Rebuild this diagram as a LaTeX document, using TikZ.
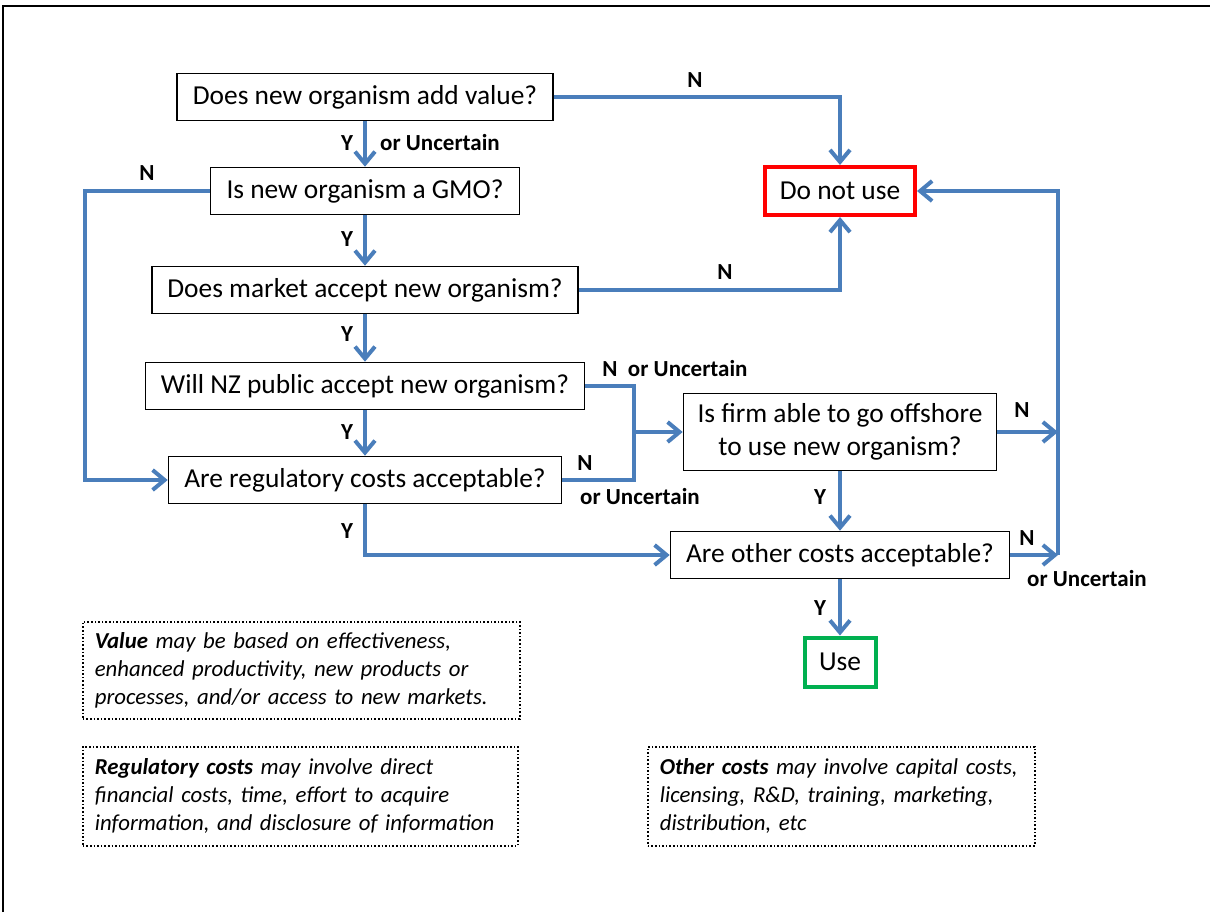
\documentclass[tikz,border=0pt]{standalone}
\usepackage{fontspec}
\setmainfont{Carlito}
\usepackage{tikz}
\usetikzlibrary{arrows.meta}

\definecolor{flowblue}{HTML}{4A7EBB}
\definecolor{stopred}{HTML}{FF0000}
\definecolor{gogreen}{HTML}{00B050}

\tikzset{
  qbox/.style={draw, line width=0.8pt, minimum height=23.5pt, inner sep=0pt,
    align=center, font=\fontsize{13.7}{16.5}\selectfont},
  endbox/.style={qbox, line width=2pt},
  link/.style={draw=flowblue, line width=2pt},
  flow/.style={link, -{Straight Barb[length=6pt,width=10pt,line width=2pt]}},
  ans/.style={inner sep=0pt, font=\fontsize{11.5}{13}\selectfont\bfseries},
  note/.style={draw, densely dotted, line width=0.8pt, anchor=north west, align=left,
    inner xsep=6pt, inner ysep=5pt, font=\fontsize{11.4}{14}\selectfont\itshape}
}

\begin{document}
\begin{tikzpicture}[x=0.5pt,y=-0.5pt]
        \useasboundingbox (0,0) rectangle (1210,912);
        % frame
        \draw[line width=1pt] (3,912) -- (3,6) -- (1210,6);

        % questions, left column
        \node[qbox, minimum width=188pt] (value) at (365,97) {Does new organism add value?};
        \node[qbox, minimum width=154.5pt] (gmo) at (365,191) {Is new organism a GMO?};
        \node[qbox, minimum width=213pt] (market) at (365,290) {Does market accept new organism?};
        \node[qbox, minimum width=219.5pt] (public) at (365,386) {Will NZ public accept new organism?};
        \node[qbox, minimum width=196.5pt] (regcost) at (365,480) {Are regulatory costs acceptable?};

        % right column
        \node[endbox, draw=stopred, minimum width=75pt, minimum height=24pt] (dontuse) at (840,191) {Do not use};
        \node[qbox, minimum width=156.5pt, minimum height=38.5pt] (offshore) at (840,432)
            {Is firm able to go offshore\\to use new organism?};
        \node[qbox, minimum width=169.5pt] (othcost) at (840,555) {Are other costs acceptable?};
        \node[endbox, draw=gogreen, minimum width=35.5pt, minimum height=24.5pt] (use) at (840,662) {Use};

        % rails
        \coordinate (lrail) at (85,191);
        \coordinate (junc) at (634,432);
        \coordinate (rrail) at (1058,555);

        % connectors
        \draw[flow] (value.east) -| (dontuse.north);
        \draw[flow] (value) -- (gmo);
        \draw[flow] (gmo.west) -- (lrail) |- (regcost.west);
        \draw[flow] (gmo) -- (market);
        \draw[flow] (market.east) -| (dontuse.south);
        \draw[flow] (market) -- (public);
        \draw[flow] (public) -- (regcost);
        \draw[link] (public.east) -| (junc) |- (regcost.east);
        \draw[flow] (junc) -- (offshore.west);
        \draw[flow] (regcost.south) |- (othcost.west);
        \draw[flow] (offshore.east) -- (offshore.east -| rrail);
        \draw[flow] (offshore) -- (othcost);
        \draw[flow] (othcost.east) -- (rrail);
        \draw[flow] (rrail) |- (dontuse.east);
        \draw[flow] (othcost) -- (use);

        % answers
        \node[ans] (a1) at (695,80) {N};
        \node[ans] (a2) at (347,143) {Y};
        \node[ans] (a3) at (440,143) {or Uncertain};
        \node[ans] (a4) at (147,173) {N};
        \node[ans] (a5) at (347,239) {Y};
        \node[ans] (a6) at (725,272) {N};
        \node[ans] (a7) at (347,334) {Y};
        \node[ans] (a8) at (675,369) {N\ \ or Uncertain};
        \node[ans] (a9) at (347,432) {Y};
        \node[ans] (a10) at (585,463) {N};
        \node[ans] (a11) at (640,497) {or Uncertain};
        \node[ans] (a12) at (1022,410) {N};
        \node[ans] (a13) at (347,531) {Y};
        \node[ans] (a14) at (820,497) {Y};
        \node[ans] (a15) at (1027,538) {N};
        \node[ans] (a16) at (1087,578) {or Uncertain};
        \node[ans] (a17) at (820,608) {Y};

        % notes
        \node[note, text width=206.5pt, minimum height=48.5pt] (valnote) at (82,621)
            {\textbf{Value} may be based on effectiveness,\\enhanced productivity, new products or\\processes, and/or access to new markets.};
        \node[note, text width=205.5pt, minimum height=49.5pt] (regnote) at (82,746)
            {\textbf{Regulatory costs} may involve direct\\financial costs, time, effort to acquire\\information, and disclosure of information};
        \node[note, text width=181.5pt, minimum height=49.5pt] (othnote) at (647,746)
            {\textbf{Other costs} may involve capital costs,\\licensing, R\&D, training, marketing,\\distribution, etc};
\end{tikzpicture}
\end{document}
